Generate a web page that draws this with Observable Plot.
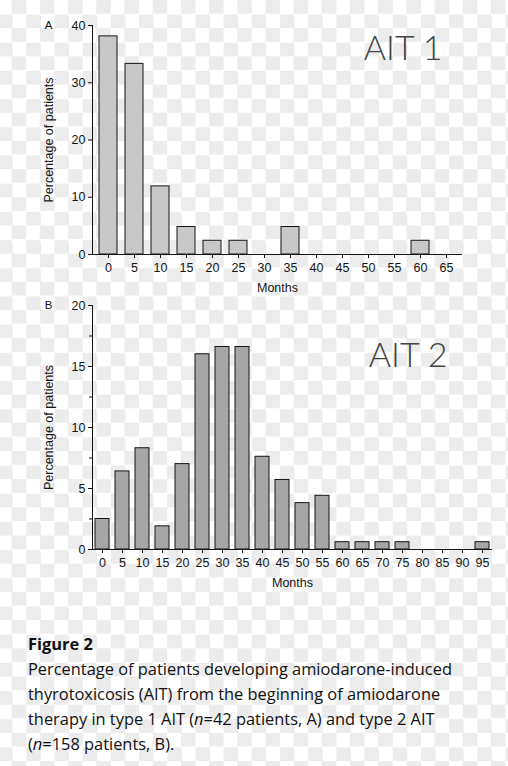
<!DOCTYPE html>
<html>
<head>
<meta charset="utf-8">
<script src="https://cdn.jsdelivr.net/npm/d3@7"></script>
<script src="https://cdn.jsdelivr.net/npm/@observablehq/plot@0.6"></script>
<style>
  html, body {
    margin: 0;
    width: 508px;
    height: 766px;
    overflow: hidden;
  }
  body {
    background-color: #fff;
    background-image: repeating-conic-gradient(#ececec 0 25%, #fff 0 50%);
    background-size: 28.2px 28.2px;
    background-position: -1.9px 0;
  }
  #caption {
    margin-top: 26px;
    padding-left: 28px;
    font-family: "Open Sans", "Noto Sans", sans-serif;
    font-size: 16.4px;
    line-height: 25px;
    color: #111;
  }
  #caption b { font-weight: 700; }
</style>
</head>
<body>
<div id="a"></div>
<div id="b"></div>
<div id="caption">
  <b>Figure 2</b><br>
  Percentage of patients developing amiodarone-induced<br>
  thyrotoxicosis (AIT) from the beginning of amiodarone<br>
  therapy in type 1 AIT (<i>n</i>=42 patients, A) and type 2 AIT<br>
  (<i>n</i>=158 patients, B).
</div>
<script>
  // panel A: type 1 AIT, n = 42
  const monthsA = [0, 5, 10, 15, 20, 25, 30, 35, 40, 45, 50, 55, 60, 65];
  const pctA = [38.1, 33.3, 11.9, 4.8, 2.4, 2.4, 0, 4.8, 0, 0, 0, 0, 2.4, 0];
  const ticksA = [0, 10, 20, 30, 40];

  // panel B: type 2 AIT, n = 158
  const monthsB = [0, 5, 10, 15, 20, 25, 30, 35, 40, 45, 50, 55, 60, 65, 70, 75, 80, 85, 90, 95];
  const pctB = [2.5, 6.4, 8.3, 1.9, 7.0, 16.0, 16.6, 16.6, 7.6, 5.7, 3.8, 4.4, 0.6, 0.6, 0.6, 0.6, 0, 0, 0, 0.6];
  const ticksB = [0, 5, 10, 15, 20];
  const minorB = [2.5, 7.5, 12.5, 17.5];

  const ink = "#151515";
  const fs = 12.5;

  function panel(o) {
    const rows = o.months
      .map((m, i) => ({ month: m, pct: o.pct[i] }))
      .filter((d) => d.pct > 0);
    return Plot.plot({
      width: 508,
      height: o.height,
      marginLeft: 92,
      marginRight: o.marginRight,
      marginTop: o.marginTop,
      marginBottom: o.marginBottom,
      style: {
        background: "transparent",
        fontFamily: "'Liberation Sans', Arial, sans-serif",
        fontSize: fs + "px",
        color: ink,
      },
      x: {
        type: "band",
        domain: o.months,
        paddingInner: 0.32,
        paddingOuter: 0.16,
      },
      y: { domain: [0, o.yMax] },
      marks: [
        Plot.barY(rows, { x: "month", y: "pct", fill: o.fill, stroke: ink, strokeWidth: 1 }),
        Plot.ruleY([0], { stroke: ink }),
        Plot.frame({ anchor: "left", stroke: ink }),
        Plot.axisX({
          tickSize: 4,
          tickPadding: 5,
          fontSize: fs,
          label: "Months",
          labelAnchor: "center",
          labelArrow: "none",
          labelOffset: 37,
        }),
        Plot.axisY({
          ticks: o.ticks,
          tickSize: 4,
          tickPadding: 3,
          fontSize: fs,
          label: "Percentage of patients",
          labelAnchor: "center",
          labelArrow: "none",
          labelOffset: 48,
        }),
        o.minor
          ? Plot.axisY({ ticks: o.minor, tickSize: 3, tickFormat: () => "", label: null })
          : null,
        Plot.text([o.name], {
          frameAnchor: "top-right",
          textAnchor: "end",
          lineAnchor: "middle",
          dx: o.nameDx,
          dy: o.nameDy,
          fontSize: 34,
          fontFamily: "Lato, sans-serif",
          fontWeight: 300,
          fill: "#444",
        }),
        Plot.text([o.tag], {
          frameAnchor: "top-left",
          textAnchor: "middle",
          lineAnchor: "middle",
          dx: -44,
          fontSize: 11.5,
        }),
      ],
    });
  }

  document.getElementById("a").appendChild(
    panel({
      months: monthsA, pct: pctA, ticks: ticksA, yMax: 40,
      fill: "#c8c8c8", name: "AIT 1", tag: "A",
      height: 295, marginTop: 25, marginBottom: 41, marginRight: 46,
      nameDx: -20, nameDy: 24,
    })
  );

  document.getElementById("b").appendChild(
    panel({
      months: monthsB, pct: pctB, ticks: ticksB, minor: minorB, yMax: 20,
      fill: "#a6a6a6", name: "AIT 2", tag: "B",
      height: 310, marginTop: 10, marginBottom: 56, marginRight: 16,
      nameDx: -45, nameDy: 51,
    })
  );
</script>
</body>
</html>
